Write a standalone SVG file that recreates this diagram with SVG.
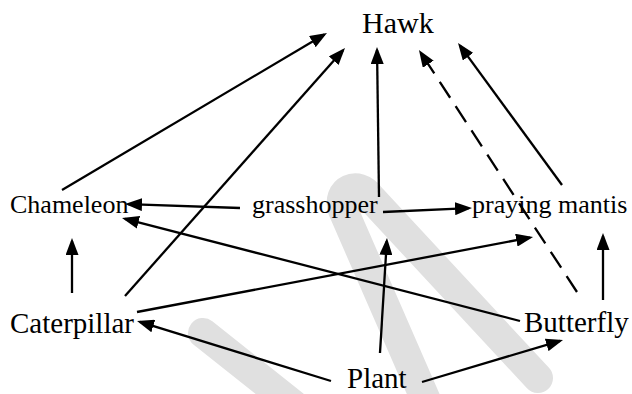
<svg xmlns="http://www.w3.org/2000/svg" width="632" height="394" viewBox="0 0 632 394">
<style>
text{font-family:"Liberation Serif","Times New Roman",serif;fill:#000}
.big{font-size:30px}
.lg{font-size:29px}
.md{font-size:26px}
.c{stroke:#000;stroke-width:2.3;fill:none;marker-end:url(#ah)}
.d{stroke-dasharray:19 10}
.wm{stroke:#e0e0e0;stroke-width:30;fill:none;stroke-linecap:round;stroke-linejoin:round}
</style>
<defs>
<marker id="ah" markerUnits="userSpaceOnUse" markerWidth="17" markerHeight="13" refX="14" refY="6.5" orient="auto">
<path d="M0,0 L17,6.5 L0,13 z" fill="#000"/>
</marker>
</defs>
<g id="watermark">
<path class="wm" d="M203 333 L300 410"/>
<path class="wm" d="M428 405 L343 210 C336 190 358 180 370 197 L538 378"/>
</g>
<g id="connectors">
<path class="c" d="M62 190 L324.4 34.5"/>
<path class="c" d="M125 296 L343 50.2"/>
<path class="c" d="M379 197 L377.04 50"/>
<path class="c d" d="M577 292 L420.6 52.5"/>
<path class="c" d="M562 185 L459.8 45.4"/>
<path class="c" d="M240 208 L128 204.1"/>
<path class="c" d="M383 212 L469 208.1"/>
<path class="c" d="M520 321 L124.9 218.8"/>
<path class="c" d="M72 293 L72 241"/>
<path class="c" d="M603 300 L603 236"/>
<path class="c" d="M137 312 L530.1 237.6"/>
<path class="c" d="M331 381 L139.9 321.9"/>
<path class="c" d="M380 353 L386.8 241"/>
<path class="c" d="M422 382 L560.1 340.9"/>
</g>
<g id="hawk"><text class="big" x="362" y="33">Hawk</text></g>
<g id="chameleon"><text class="md" x="10" y="213">Chameleon</text></g>
<g id="grasshopper"><text class="md" x="252" y="213">grasshopper</text></g>
<g id="praying-mantis"><text class="md" x="472" y="213">praying mantis</text></g>
<g id="caterpillar"><text class="lg" x="10" y="333">Caterpillar</text></g>
<g id="butterfly"><text class="lg" x="524" y="332">Butterfly</text></g>
<g id="plant"><text class="lg" x="347" y="388">Plant</text></g>
</svg>
